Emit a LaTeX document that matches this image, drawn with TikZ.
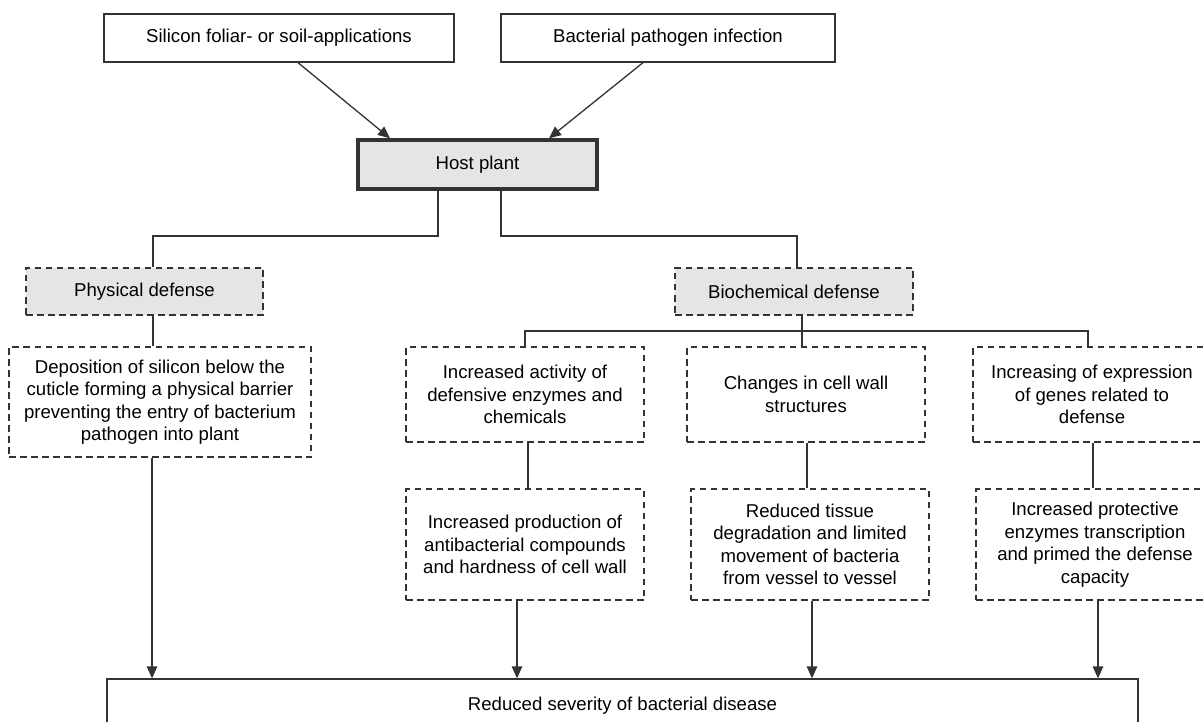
\documentclass[tikz,border=0pt]{standalone}
\usepackage{fontspec}
\setmainfont{Liberation Sans}
\usetikzlibrary{arrows.meta,calc}
\definecolor{boxline}{gray}{0.2}
\definecolor{boxfill}{gray}{0.9}
\begin{document}
\begin{tikzpicture}[x=1pt,y=-1pt,
  base/.style={draw=boxline, line width=1.3pt, inner sep=0pt, align=center, font=\fontsize{18.6pt}{22.5pt}\selectfont},
  solidbox/.style={base},
  hostbox/.style={base, line width=3.4pt, fill=boxfill},
  dbox/.style={base, dash pattern=on 6.5pt off 4.5pt},
  dfill/.style={dbox, fill=boxfill},
  link/.style={draw=boxline, line width=1.3pt},
  arr/.style={link, -{Triangle[length=12pt,width=10.5pt]}},
]
\fill[white] (0,0) rectangle (1203,722);
\useasboundingbox (0,0) rectangle (1203,722);

% top row
\node[solidbox, minimum width=350pt, minimum height=48pt] (sil) at (279,38) {Silicon foliar- or soil-applications};
\node[solidbox, minimum width=334pt, minimum height=48pt] (bac) at (668,38) {Bacterial pathogen infection};
\node[hostbox, minimum width=239pt, minimum height=49pt] (host) at (477.5,164.5) {Host plant};

% defense types
\node[dfill, minimum width=237pt, minimum height=47pt] (phys) at (144.5,291.5) {Physical defense};
\node[dfill, minimum width=238pt, minimum height=47pt] (bio) at (794,291.5) {Biochemical defense};

% physical branch
\node[dbox, minimum width=302pt, minimum height=110pt] (dep) at (160,402) {Deposition of silicon below the\\cuticle forming a physical barrier\\preventing the entry of bacterium\\pathogen into plant};

% biochemical branch, first row
\node[dbox, minimum width=238pt, minimum height=95pt] (act) at (525,394.5) {Increased activity of\\defensive enzymes and\\chemicals};
\node[dbox, minimum width=238pt, minimum height=95pt] (chg) at (806,394.5) {Changes in cell wall\\structures};
\node[dbox, minimum width=238pt, minimum height=95pt] (inc) at (1092,394.5) {Increasing of expression\\of genes related to\\defense};

% biochemical branch, second row
\node[dbox, minimum width=238pt, minimum height=111pt] (prod) at (525,544.5) {Increased production of\\antibacterial compounds\\and hardness of cell wall};
\node[dbox, minimum width=238pt, minimum height=111pt] (tis) at (810,544.5) {Reduced tissue\\degradation and limited\\movement of bacteria\\from vessel to vessel};
\node[dbox, minimum width=238pt, minimum height=111pt] (prot) at (1095,544.5) {Increased protective\\enzymes transcription\\and primed the defense\\capacity};

% result
\node[solidbox, minimum width=1031pt, minimum height=54pt] (red) at (622.5,706) {Reduced severity of bacterial disease};

% connectors
\draw[arr] ([xshift=19pt]sil.south) -- ([xshift=-87.5pt]host.north);
\draw[arr] ([xshift=-25pt]bac.south) -- ([xshift=71.5pt]host.north);

\coordinate (jl) at (153,236);
\coordinate (jr) at (797,236);
\draw[link] ([xshift=-39.5pt]host.south) |- (jl) -- (jl |- phys.north);
\draw[link] ([xshift=23.5pt]host.south) |- (jr) -- (jr |- bio.north);

\draw[link] (jl |- phys.south) -- (jl |- dep.north);

\coordinate (jb) at (802,331);
\coordinate (jba) at (525,331);
\coordinate (jbc) at (1088,331);
\draw[link] (jb |- bio.south) -- (jb |- chg.north);
\draw[link] (jba |- act.north) -- (jba) -- (jbc) -- (jbc |- inc.north);

\coordinate (va) at (528,450);
\coordinate (vc) at (807,450);
\coordinate (vi) at (1093,450);
\draw[link] (va |- act.south) -- (va |- prod.north);
\draw[link] (vc |- chg.south) -- (vc |- tis.north);
\draw[link] (vi |- inc.south) -- (vi |- prot.north);

\coordinate (ad) at (152,650);
\coordinate (ap) at (517,650);
\coordinate (at) at (812,650);
\coordinate (ar) at (1098,650);
\draw[arr] (ad |- dep.south) -- (ad |- red.north);
\draw[arr] (ap |- prod.south) -- (ap |- red.north);
\draw[arr] (at |- tis.south) -- (at |- red.north);
\draw[arr] (ar |- prot.south) -- (ar |- red.north);
\end{tikzpicture}
\end{document}
